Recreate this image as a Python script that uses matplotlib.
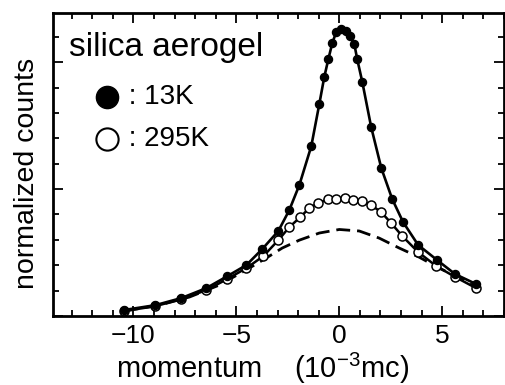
import matplotlib
matplotlib.use("Agg")
import matplotlib.pyplot as plt
from matplotlib.ticker import MultipleLocator

plt.rcParams['font.family'] = ['Liberation Sans', 'DejaVu Sans']
plt.rcParams['mathtext.default'] = 'regular'

# 13K (filled circles)
x_13k = [-10.44, -8.93, -7.67, -6.46, -5.44, -4.51, -3.74, -2.96, -2.43, -1.94,
         -1.36, -0.97, -0.73, -0.53, -0.34, -0.15, 0.10, 0.34, 0.53, 0.73,
         0.87, 1.12, 1.55, 2.04, 2.57, 3.10, 3.83, 4.76, 5.63, 6.65]
y_13k = [0.24, 0.43, 0.71, 1.10, 1.57, 2.01, 2.64, 3.35, 4.17, 5.16,
         6.69, 8.35, 9.41, 10.12, 10.75, 11.18, 11.30, 11.22, 11.02, 10.71,
         10.12, 9.21, 7.44, 5.83, 4.61, 3.70, 2.80, 2.20, 1.65, 1.26]

# 295K (open circles)
x_295k = [-10.44, -8.93, -7.67, -6.46, -5.44, -4.51, -3.69, -2.96, -2.43, -1.89,
          -1.46, -1.02, -0.53, -0.15, 0.29, 0.68, 1.12, 1.55, 2.04, 2.52,
          3.06, 3.83, 4.71, 5.63, 6.65]
y_295k = [0.20, 0.39, 0.67, 1.02, 1.46, 1.89, 2.36, 2.99, 3.50, 3.90,
          4.25, 4.45, 4.61, 4.61, 4.65, 4.57, 4.53, 4.37, 4.09, 3.66,
          3.15, 2.52, 1.97, 1.54, 1.10]

# dashed reference curve
x_dash = [-10.44, -8.74, -7.28, -5.83, -4.37, -3.40, -2.77, -1.94, -0.97, 0.0,
          0.97, 1.94, 2.91, 3.88, 4.85, 5.83, 6.65]
y_dash = [0.20, 0.43, 0.75, 1.22, 1.89, 2.36, 2.68, 2.99, 3.27, 3.41,
          3.35, 3.07, 2.68, 2.32, 1.89, 1.50, 1.14]

fig = plt.figure(figsize=(5.06, 3.85), dpi=100)
ax = fig.add_axes([0.105, 0.179, 0.891, 0.787])

ax.plot(x_dash, y_dash, color='black', lw=2.0, ls=(0, (5, 2.5)), zorder=1)
ax.plot(x_295k, y_295k, color='black', lw=1.8, marker='o', ms=6.5,
        mfc='white', mec='black', mew=1.1, zorder=2)
ax.plot(x_13k, y_13k, color='black', lw=1.9, marker='o', ms=5.8,
        mfc='black', mec='black', zorder=3)

ax.set_xlim(-13.9, 8.0)
ax.set_ylim(0, 11.93)

ax.xaxis.set_major_locator(MultipleLocator(5))
ax.xaxis.set_minor_locator(MultipleLocator(1))
ax.yaxis.set_major_locator(MultipleLocator(5))
ax.yaxis.set_minor_locator(MultipleLocator(1))
ax.tick_params(which='both', direction='in', top=True, right=True, width=1.3)
ax.tick_params(which='major', length=7, labelsize=19, pad=6)
ax.tick_params(which='minor', length=4.5)
ax.set_yticklabels([])
for s in ax.spines.values():
    s.set_linewidth(2.0)

ax.set_xlabel('momentum    (10$^{-3}$mc)', fontsize=21)
ax.xaxis.set_label_coords(0.465, -0.115)
ax.set_ylabel('normalized counts', fontsize=20.5)
ax.yaxis.set_label_coords(-0.03, 0.47)

ax.text(0.035, 0.885, 'silica aerogel', transform=ax.transAxes, fontsize=24,
        va='center', ha='left')
ax.plot([0.12], [0.722], transform=ax.transAxes, marker='o', ms=16,
        color='black', clip_on=False)
ax.text(0.15, 0.722, ' : 13K', transform=ax.transAxes, fontsize=20,
        va='center', ha='left')
ax.plot([0.12], [0.583], transform=ax.transAxes, marker='o', ms=16,
        mfc='white', mec='black', mew=1.5, clip_on=False)
ax.text(0.15, 0.583, ' : 295K', transform=ax.transAxes, fontsize=20,
        va='center', ha='left')

fig.savefig('out.png', dpi=100)
